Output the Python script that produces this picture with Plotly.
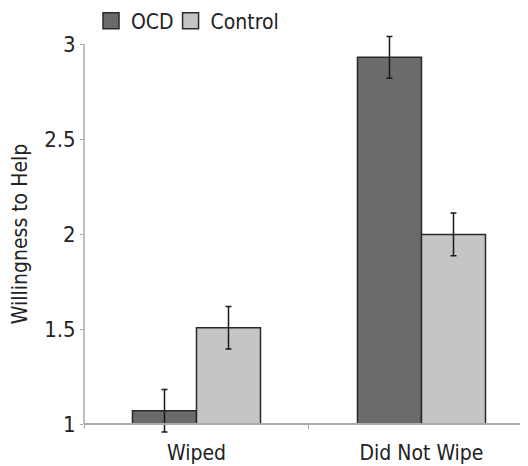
import plotly.graph_objects as go

categories = ["Wiped", "Did Not Wipe"]
ocd_values = [1.07, 2.93]
ocd_errors = [0.112, 0.11]
control_values = [1.507, 1.998]
control_errors = [0.112, 0.112]
y_ticks = [1, 1.5, 2, 2.5, 3]
y_ticklabels = ["1", "1.5", "2", "2.5", "3"]
baseline = 1

FONT = "DejaVu Sans Condensed, Liberation Sans Narrow, sans-serif"
TXT = "#222222"
OCD_COLOR = "#6b6b6d"
CTRL_COLOR = "#c4c5c7"
EDGE = "#2a2a2a"

fig = go.Figure()
for name, vals, errs, col in [("OCD", ocd_values, ocd_errors, OCD_COLOR),
                              ("Control", control_values, control_errors, CTRL_COLOR)]:
    fig.add_trace(go.Bar(
        name=name, x=categories, y=[v - baseline for v in vals], base=baseline,
        marker=dict(color=col, line=dict(color=EDGE, width=1.5)),
        error_y=dict(type="data", array=errs, color="#1a1a1a", thickness=1.5, width=3),
        showlegend=False,
    ))
# legend entries (larger square swatches), each in its own legend box
for name, col, lg in [("OCD", OCD_COLOR, "legend"), ("Control", CTRL_COLOR, "legend2")]:
    fig.add_trace(go.Scatter(
        name=name, x=[None], y=[None], mode="markers", legend=lg,
        marker=dict(symbol="square", size=16, color=col, line=dict(color=EDGE, width=1.5)),
    ))

ymin, ymax = 0.9, 3.1
leg_common = dict(orientation="h", y=1.0096, xanchor="left", yanchor="middle",
                  font=dict(family=FONT, size=21, color=TXT),
                  itemwidth=30, bgcolor="rgba(0,0,0,0)")
# the page body adds an 8px offset, so margins are reduced by 8px on left/top
fig.update_layout(
    width=528, height=466,
    margin=dict(l=76, r=0, t=17, b=31, autoexpand=False),
    paper_bgcolor="white", plot_bgcolor="white",
    barmode="group", bargap=0.431, bargroupgap=0,
    font=dict(family=FONT, size=21, color=TXT),
    showlegend=True,
    legend=dict(x=0.0155, **leg_common),
    legend2=dict(x=0.1915, **leg_common),
    xaxis=dict(
        range=[-0.5, 1.509], showline=True, linecolor="#aaaaaa", linewidth=1.5,
        anchor="free", position=(baseline - ymin) / (ymax - ymin),
        ticks="outside", tickson="boundaries", ticklen=4, tickcolor="#aaaaaa",
        ticklabelstandoff=10,
        showgrid=False, tickfont=dict(family=FONT, size=21, color=TXT),
    ),
    yaxis=dict(
        range=[ymin, ymax], tickvals=y_ticks, ticktext=y_ticklabels,
        showline=False,
        ticks="outside", ticklen=3, tickcolor="#aaaaaa", showgrid=False, zeroline=False,
        ticklabelstandoff=0,
        tickfont=dict(family=FONT, size=22, color=TXT),
        title=dict(text="Willingness to Help", font=dict(family=FONT, size=21, color=TXT), standoff=10),
    ),
    shapes=[dict(type="line", xref="paper", yref="y", x0=0, x1=0, y0=min(y_ticks), y1=max(y_ticks),
                 line=dict(color="#aaaaaa", width=1.5), layer="below")],
)

fig.write_html("out.html")
